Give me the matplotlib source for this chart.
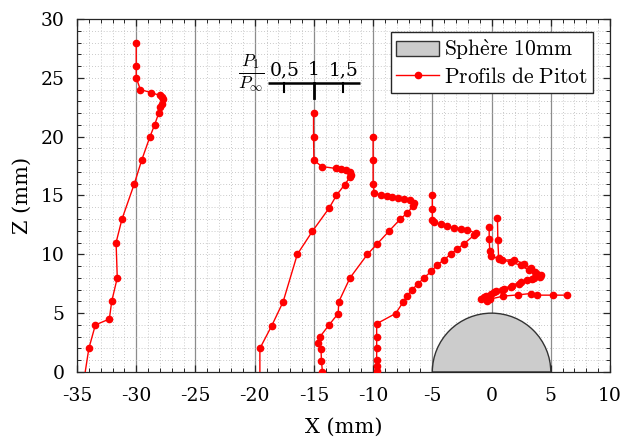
import matplotlib
matplotlib.use('Agg')
import matplotlib.pyplot as plt
import matplotlib.patches as mpatches
from matplotlib.lines import Line2D
from matplotlib.ticker import MultipleLocator

plt.rcParams['font.family'] = ['DejaVu Serif']
plt.rcParams['mathtext.fontset'] = 'cm'
plt.rcParams['axes.unicode_minus'] = False

# Pitot profiles (X, Z in mm)
prof1_x = [-34.4, -34.0, -33.45, -32.27, -32.07, -31.6, -31.7, -31.2, -30.16, -29.54,
           -28.84, -28.45, -28.1, -28.0, -27.85, -27.77, -27.8, -28.0, -28.75, -29.65,
           -30.0, -30.0, -30.0]
prof1_z = [-0.6, 2.0, 4.0, 4.5, 6.0, 8.0, 11.0, 13.0, 16.0, 18.0,
           20.0, 21.0, 22.0, 22.5, 22.8, 23.2, 23.4, 23.5, 23.75, 24.0,
           25.0, 26.0, 28.0]

prof2_x = [-19.56, -19.56, -18.55, -17.6, -16.4, -15.12, -13.72, -13.1, -12.4, -11.95,
           -11.83, -11.95, -12.31, -12.73, -13.15, -14.33, -15.0, -15.03, -15.03]
prof2_z = [-0.6, 2.0, 3.95, 5.96, 10.0, 11.97, 13.92, 15.0, 15.93, 16.55,
           16.75, 16.97, 17.18, 17.26, 17.3, 17.46, 18.0, 20.0, 22.0]

prof3_x = [-14.28, -14.36, -14.4, -14.65, -14.48, -13.72, -12.95, -12.9, -11.95, -10.48,
           -9.64, -8.66, -7.7, -7.1, -6.64, -6.55, -6.89, -7.39, -7.87, -8.37,
           -8.85, -9.36, -9.9, -10.0, -10.0, -10.0]
prof3_z = [0.03, 0.93, 1.92, 2.48, 3.0, 4.0, 4.97, 5.96, 8.0, 10.0,
           10.9, 11.97, 13.0, 13.53, 14.09, 14.35, 14.58, 14.69, 14.77, 14.86,
           14.94, 15.06, 15.2, 16.0, 18.0, 20.0]

prof4_x = [-9.7, -9.7, -9.7, -9.7, -9.7, -9.7, -8.1, -7.45, -7.1, -6.7,
           -6.2, -5.7, -5.1, -4.58, -4.0, -3.46, -2.9, -2.33, -1.5, -1.35,
           -2.05, -2.61, -3.18, -3.74, -4.3, -4.86, -5.0, -5.0, -5.0]
prof4_z = [0.1, 0.5, 1.0, 2.0, 3.0, 4.1, 4.97, 5.96, 6.5, 7.0,
           7.5, 8.0, 8.55, 9.1, 9.55, 10.0, 10.45, 10.9, 11.6, 11.8,
           12.1, 12.18, 12.26, 12.37, 12.54, 12.74, 12.94, 13.87, 15.0]

prof5a_x = [-0.2, -0.2, -0.15, -0.05, 0.6, 1.6, 2.45, 3.15, 3.85, 4.1,
            3.4, 2.45, 1.7, 1.04, 0.4, -0.08, -0.5, -0.93, -0.4]
prof5a_z = [12.3, 11.3, 10.3, 9.9, 9.6, 9.35, 9.07, 8.64, 8.3, 8.1,
            7.9, 7.65, 7.35, 7.09, 6.85, 6.67, 6.45, 6.24, 6.0]

prof5b_x = [0.5, 0.53, 0.6, 0.9, 1.9, 2.7, 3.3, 3.7, 4.2, 3.6,
            3.0, 2.3, 1.6, 0.9, 0.2, -0.65, -0.1, 1.0, 2.2, 3.3,
            3.85, 5.17, 6.4]
prof5b_z = [13.1, 11.2, 9.65, 9.5, 9.55, 9.2, 8.85, 8.5, 8.25, 8.0,
            7.8, 7.5, 7.23, 7.0, 6.8, 6.38, 6.2, 6.45, 6.55, 6.67,
            6.53, 6.53, 6.53]

profiles = [(prof1_x, prof1_z), (prof2_x, prof2_z), (prof3_x, prof3_z),
            (prof4_x, prof4_z), (prof5a_x, prof5a_z), (prof5b_x, prof5b_z)]

sphere_radius = 5.0

# scale bar for P1/Pinf
scale_ratios = [0.5, 1.0, 1.5]
scale_labels = ['0,5', '1', '1,5']
scale_ref_x = -15.0
scale_mm_per_unit = 5.0
scale_z = 24.6

fig = plt.figure(figsize=(6.22, 4.41), dpi=100)
ax = fig.add_axes([0.1238, 0.1565, 0.8569, 0.8004])

# grids
ax.xaxis.set_major_locator(MultipleLocator(5))
ax.yaxis.set_major_locator(MultipleLocator(5))
ax.xaxis.set_minor_locator(MultipleLocator(1))
ax.yaxis.set_minor_locator(MultipleLocator(1))
ax.grid(which='minor', color='0.72', linestyle=(0, (1, 2.5)), linewidth=0.6)
ax.grid(which='major', axis='x', color='0.55', linestyle='-', linewidth=0.9)
ax.grid(which='major', axis='y', color='0.72', linestyle=(0, (1, 2.5)), linewidth=0.6)
ax.set_axisbelow(True)

sphere = mpatches.Wedge((0, 0), sphere_radius, 0, 180, facecolor='0.8',
                        edgecolor='0.2', linewidth=1.0, zorder=2)
ax.add_patch(sphere)

for px, pz in profiles:
    ax.plot(px, pz, color='red', linewidth=1.0, marker='o', markersize=4.5,
            zorder=3)

# P1/Pinf scale bar
bar_x = [scale_ref_x + (r - 1.0) * scale_mm_per_unit for r in scale_ratios]
ax.plot([bar_x[0] - 1.4, bar_x[-1] + 1.4], [scale_z, scale_z], color='black',
        linewidth=1.8, zorder=4, solid_capstyle='butt')
for bx, lab, r in zip(bar_x, scale_labels, scale_ratios):
    low = scale_z - (1.3 if r == 1.0 else 0.8)
    ax.plot([bx, bx], [scale_z, low], color='black',
            linewidth=2.0 if r == 1.0 else 1.5, zorder=4)
    ax.text(bx, scale_z + 0.3, lab, ha='center', va='bottom', fontsize=13.5,
            zorder=4)
ax.text(bar_x[0] - 2.8, scale_z + 0.75, r'$\frac{P_1}{P_\infty}$', ha='center',
        va='center', fontsize=18, zorder=4)

ax.set_xlim(-35, 10)
ax.set_ylim(0, 30)

ax.tick_params(which='both', direction='in', top=True, right=True,
               labelsize=13.5, color='0.15', pad=9)
ax.tick_params(axis='x', which='both', pad=11)
ax.tick_params(which='major', length=5, width=0.9)
ax.tick_params(which='minor', length=3, width=0.7)
for s in ax.spines.values():
    s.set_color('0.15')
    s.set_linewidth(0.9)

ax.set_xlabel('X (mm)', fontsize=15, labelpad=9)
ax.set_ylabel('Z (mm)', fontsize=15, labelpad=6)

handles = [
    mpatches.Patch(facecolor='0.8', edgecolor='0.2', linewidth=1.0),
    Line2D([], [], color='red', linewidth=1.0, marker='o', markersize=4.5),
]
labels = [r'$\mathrm{Sph\grave{e}re\ 10mm}$', r'$\mathrm{Profils\ de\ Pitot}$']
leg = ax.legend(handles, labels, loc='upper right',
                bbox_to_anchor=(0.968, 0.963), fontsize=15.5, frameon=True,
                fancybox=False, framealpha=1, edgecolor='0.15',
                handlelength=2.0, handletextpad=0.2, borderpad=0.25,
                labelspacing=0.15, borderaxespad=0)
leg.get_frame().set_linewidth(1.0)

fig.savefig('out.png', dpi=100)
